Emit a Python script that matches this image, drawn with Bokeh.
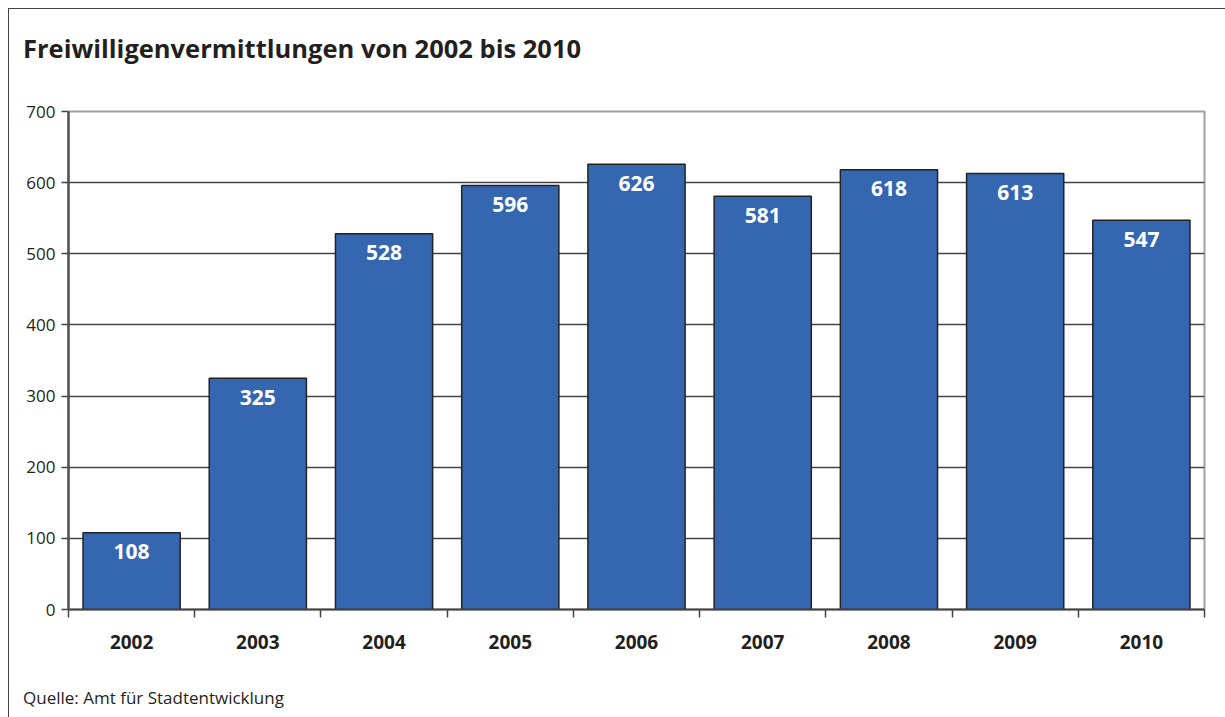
from bokeh.plotting import figure
from bokeh.layouts import column
from bokeh.models import FixedTicker, Range1d, ColumnDataSource, Div
from bokeh.core.properties import value
from bokeh.embed import file_html
from bokeh.resources import INLINE
import numpy as np

years = ["2002", "2003", "2004", "2005", "2006", "2007", "2008", "2009", "2010"]
counts = [108, 325, 528, 596, 626, 581, 618, 613, 547]
y_ticks = [0, 100, 200, 300, 400, 500, 600, 700]
title_text = "Freiwilligenvermittlungen von 2002 bis 2010"
source_text = "Quelle: Amt für Stadtentwicklung"

FONT = "Open Sans"
TXT = "#231f20"

pos = np.arange(len(years)) + 0.5
src = ColumnDataSource(dict(x=pos, top=counts, label=[str(c) for c in counts]))

p = figure(width=1216, height=568, output_backend="svg", toolbar_location=None,
           x_range=Range1d(0, len(years)), y_range=Range1d(0, 700),
           min_border_left=59, min_border_right=21, min_border_top=10, min_border_bottom=60)

p.vbar(x="x", top="top", width=0.77, source=src, fill_color="#3567b1",
       line_color="#222222", line_width=1.5)
p.text(x="x", y="top", text="label", source=src, text_align="center",
       text_baseline="middle", y_offset=19, text_color="white",
       text_font=value(FONT), text_font_size="21px", text_font_style="bold")

p.outline_line_color = "#a0a0a0"
p.outline_line_width = 2
p.background_fill_color = "white"

p.xgrid.visible = False
p.ygrid.ticker = FixedTicker(ticks=y_ticks[1:-1])
p.ygrid.grid_line_color = "#444444"
p.ygrid.grid_line_width = 1.5

ya = p.yaxis[0]
ya.ticker = FixedTicker(ticks=y_ticks)
ya.axis_line_color = "#555555"
ya.axis_line_width = 2.5
ya.major_tick_line_color = "#444444"
ya.major_tick_line_width = 1.5
ya.major_tick_out = 7
ya.major_tick_in = 0
ya.minor_tick_line_color = None
ya.major_label_text_font = FONT
ya.major_label_text_font_size = "17px"
ya.major_label_text_color = TXT
ya.major_label_standoff = 6

xa = p.xaxis[0]
xa.ticker = FixedTicker(ticks=list(pos), minor_ticks=list(range(len(years) + 1)))
xa.major_label_overrides = {float(x): y for x, y in zip(pos, years)}
xa.axis_line_color = "#444444"
xa.axis_line_width = 2
xa.major_tick_line_color = None
xa.minor_tick_line_color = "#444444"
xa.minor_tick_line_width = 1.5
xa.minor_tick_out = 8
xa.minor_tick_in = 0
xa.major_label_text_font = FONT
xa.major_label_text_font_size = "19px"
xa.major_label_text_font_style = "bold"
xa.major_label_text_color = TXT
xa.major_label_standoff = 17

title_div = Div(
    text=(f'<div style="font-family:\'{FONT}\'; font-weight:bold; font-size:25.5px; '
          f'color:{TXT}; line-height:30px; padding:24px 0 0 14px; white-space:nowrap">'
          f'{title_text}</div>'),
    width=1216, height=92, margin=0)
source_div = Div(
    text=(f'<div style="font-family:\'{FONT}\'; font-size:17px; color:{TXT}; '
          f'line-height:20px; padding:19px 0 0 14px; white-space:nowrap">'
          f'{source_text}</div>'),
    width=1216, height=48, margin=0)

inner = column(title_div, p, source_div,
               styles={"border-left": "1px solid #444", "border-top": "1px solid #444"})
layout = column(inner, styles={"padding-left": "8px", "padding-top": "8px"})

open("out.html", "w").write(file_html(layout, INLINE))
